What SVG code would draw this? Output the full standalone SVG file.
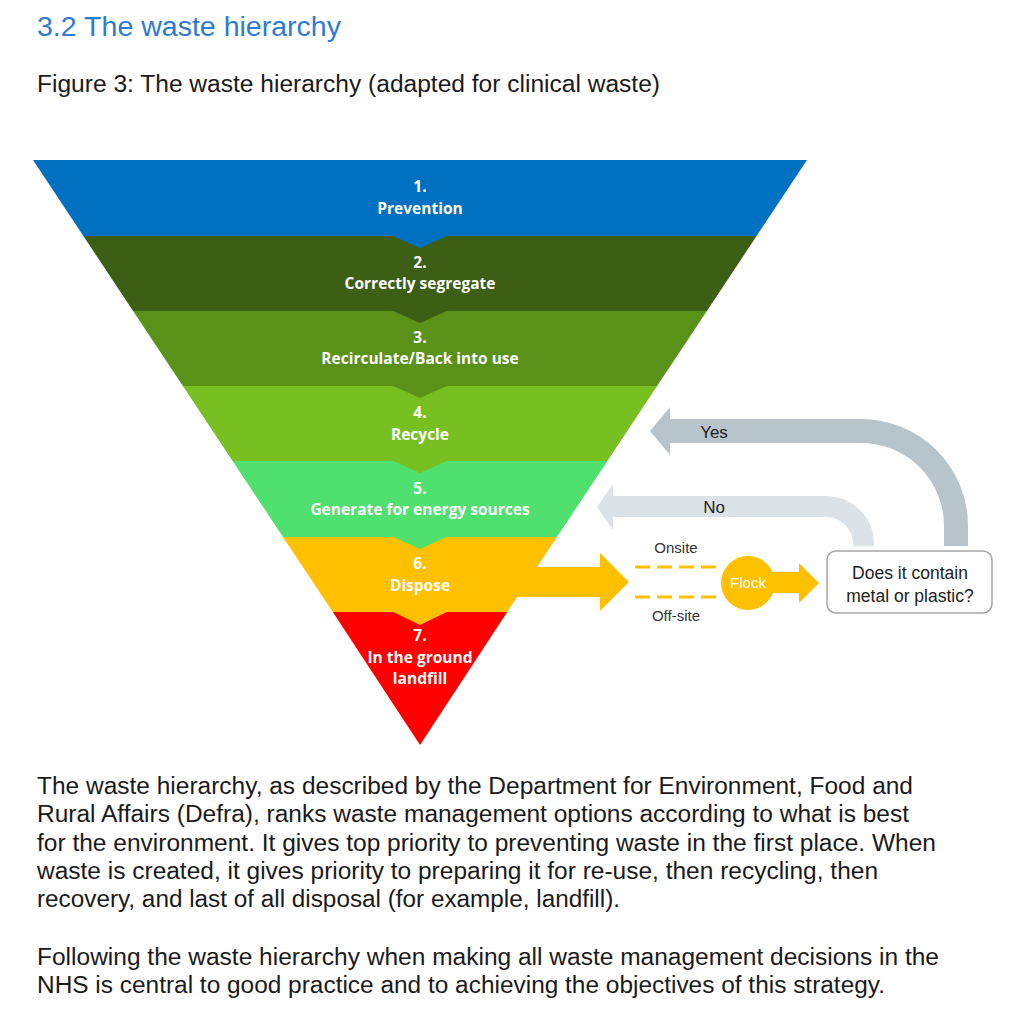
<svg xmlns="http://www.w3.org/2000/svg" width="1018" height="1024" viewBox="0 0 1018 1024">
<style>
.band-label{font-family:"Open Sans","Noto Sans",sans-serif;font-weight:700;font-size:15.5px;fill:#ffffff;text-anchor:middle}
.body{font-family:"Liberation Sans",Arial,sans-serif;font-size:23px;fill:#1a1a1a}
.small{font-family:"Liberation Sans",Arial,sans-serif;font-size:15px;fill:#333333;text-anchor:middle}
.arrowlbl{font-family:"Liberation Sans",Arial,sans-serif;font-size:17px;fill:#222222;text-anchor:middle}
.dash{stroke:#FFC000;stroke-width:3;stroke-dasharray:15 7;fill:none}
</style>
<rect width="1018" height="1024" fill="#ffffff"/>
<text x="37" y="36" font-family="Liberation Sans, Arial, sans-serif" font-size="27" fill="#2E7BD0" textLength="304" lengthAdjust="spacingAndGlyphs">3.2 The waste hierarchy</text>
<text x="37" y="92" class="body" textLength="623" lengthAdjust="spacingAndGlyphs">Figure 3: The waste hierarchy (adapted for clinical waste)</text>

<g id="band-1"><polygon points="33,160 807,160 756.6,236 83.4,236" fill="#0070C0"/></g>
<g id="band-2"><polygon points="83.4,236 756.6,236 706.9,311 133.1,311" fill="#3D5E15"/></g>
<g id="band-3"><polygon points="133.1,311 706.9,311 657.1,386 182.9,386" fill="#5A9119"/></g>
<g id="band-4"><polygon points="182.9,386 657.1,386 607.4,461 232.6,461" fill="#78BF21"/></g>
<g id="band-5"><polygon points="232.6,461 607.4,461 557,537 283,537" fill="#50E06F"/></g>
<g id="band-6"><polygon points="283,537 557,537 507.2,612 332.8,612" fill="#FFC000"/></g>
<g id="band-7"><polygon points="332.8,612 507.2,612 420,745" fill="#FF0000"/></g>
<g id="chevrons">
<polygon points="391,235 449,235 420,248" fill="#0070C0"/>
<polygon points="391,310 449,310 420,323" fill="#3D5E15"/>
<polygon points="391,385 449,385 420,398" fill="#5A9119"/>
<polygon points="391,460 449,460 420,473" fill="#78BF21"/>
<polygon points="391,536 449,536 420,549" fill="#50E06F"/>
<polygon points="391,611 449,611 420,625" fill="#FFC000"/>
</g>
<g id="band-labels">
<text class="band-label" x="420" y="192">1.</text>
<text class="band-label" x="420" y="214">Prevention</text>
<text class="band-label" x="420" y="268">2.</text>
<text class="band-label" x="420" y="289">Correctly segregate</text>
<text class="band-label" x="420" y="343">3.</text>
<text class="band-label" x="420" y="364">Recirculate/Back into use</text>
<text class="band-label" x="420" y="418">4.</text>
<text class="band-label" x="420" y="440">Recycle</text>
<text class="band-label" x="420" y="494">5.</text>
<text class="band-label" x="420" y="515">Generate for energy sources</text>
<text class="band-label" x="420" y="569">6.</text>
<text class="band-label" x="420" y="591">Dispose</text>
<text class="band-label" x="420" y="641">7.</text>
<text class="band-label" x="420" y="663">In the ground</text>
<text class="band-label" x="420" y="684">landfill</text>
</g>

<g id="connectors">
<path d="M956 546 V526 A95 95 0 0 0 861 431 H668" fill="none" stroke="#B8C4CB" stroke-width="24"/>
<polygon points="670,407 650,431 670,455" fill="#B8C4CB"/>
<text class="arrowlbl" x="714" y="438">Yes</text>
<path d="M863.5 546 V544 A37.5 37.5 0 0 0 826 506.5 H611" fill="none" stroke="#DCE3E8" stroke-width="21"/>
<polygon points="613,484 597,507 613,530" fill="#DCE3E8"/>
<text class="arrowlbl" x="714" y="513">No</text>
<polygon points="505,567 600,567 600,553 629,582 600,611 600,597 505,597" fill="#FFC000"/>
<line class="dash" x1="635" y1="567" x2="716" y2="567"/>
<line class="dash" x1="635" y1="597" x2="716" y2="597"/>
<text class="small" x="676" y="553">Onsite</text>
<text class="small" x="676" y="621">Off-site</text>
<polygon points="765,572 799,572 799,563 819,583 799,603 799,593 765,593" fill="#FFC000"/>
</g>

<g id="flock">
<circle cx="748" cy="583" r="27" fill="#FFC000"/>
<text x="748" y="588" font-family="Liberation Sans, Arial, sans-serif" font-size="15" fill="#ffffff" text-anchor="middle">Flock</text>
</g>
<g id="question">
<rect x="827" y="551" width="165" height="62" rx="9" fill="#ffffff" stroke="#A6A6A6" stroke-width="1.5"/>
<text x="910" y="579" font-family="Liberation Sans, Arial, sans-serif" font-size="17.5" fill="#222222" text-anchor="middle">Does it contain</text>
<text x="910" y="602" font-family="Liberation Sans, Arial, sans-serif" font-size="17.5" fill="#222222" text-anchor="middle">metal or plastic?</text>
</g>

<g id="body-text">
<text class="body" x="37" y="794" textLength="876" lengthAdjust="spacingAndGlyphs">The waste hierarchy, as described by the Department for Environment, Food and</text>
<text class="body" x="37" y="822" textLength="872" lengthAdjust="spacingAndGlyphs">Rural Affairs (Defra), ranks waste management options according to what is best</text>
<text class="body" x="37" y="851" textLength="899" lengthAdjust="spacingAndGlyphs">for the environment. It gives top priority to preventing waste in the first place. When</text>
<text class="body" x="37" y="879" textLength="841" lengthAdjust="spacingAndGlyphs">waste is created, it gives priority to preparing it for re-use, then recycling, then</text>
<text class="body" x="37" y="907" textLength="583" lengthAdjust="spacingAndGlyphs">recovery, and last of all disposal (for example, landfill).</text>
<text class="body" x="37" y="965" textLength="902" lengthAdjust="spacingAndGlyphs">Following the waste hierarchy when making all waste management decisions in the</text>
<text class="body" x="37" y="993" textLength="848" lengthAdjust="spacingAndGlyphs">NHS is central to good practice and to achieving the objectives of this strategy.</text>
</g>
</svg>
